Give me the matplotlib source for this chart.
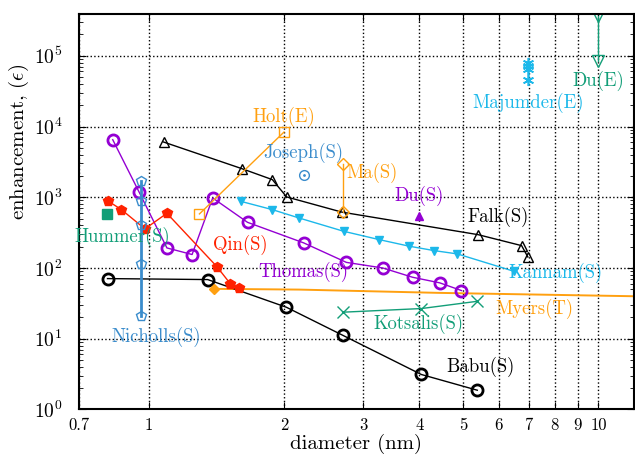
import numpy as np
import matplotlib
matplotlib.use("Agg")
import matplotlib.pyplot as plt
from matplotlib.ticker import LogLocator, NullLocator, FixedLocator, FixedFormatter

plt.rcParams.update({
    "font.family": "serif",
    "font.serif": ["cmr10"],
    "mathtext.fontset": "cm",
    "axes.formatter.use_mathtext": True,
    "font.size": 12,
})

# --- data (diameter in nm, enhancement)
thomas_d = [0.832, 0.952, 1.098, 1.249, 1.388, 1.659, 2.213, 2.752, 3.316, 3.864, 4.44, 4.96]
thomas_e = [6510, 1188, 192, 155, 977, 442, 226, 120, 100, 73.9, 61.6, 48]

falk_d = [1.079, 1.612, 1.884, 2.027, 2.69, 5.40, 6.75, 6.97]
falk_e = [6040, 2535, 1774, 1010, 616, 296, 207, 143]

kannam_d = [1.603, 1.884, 2.158, 2.715, 3.253, 3.80, 4.315, 4.86, 6.49]
kannam_e = [875, 668, 510, 330, 252, 203, 176, 158, 89.8]

babu_d = [0.810, 1.353, 2.023, 2.70, 4.04, 5.38]
babu_e = [70.8, 68.6, 27.9, 11.2, 3.12, 1.87]

qin_d = [0.810, 0.870, 0.981, 1.098, 1.419, 1.518, 1.589]
qin_e = [895, 668, 357, 593, 104, 60.2, 52.8]

nicholls_d = [0.960, 0.960, 0.960, 0.960, 0.960]
nicholls_e = [1716, 875, 410, 114, 20.8]

kotsalis_d = [2.70, 4.04, 5.38]
kotsalis_e = [23.7, 26.7, 33.8]

holt_d = [1.297, 2.0]
holt_e = [581, 8360]

ma_d = [2.70, 2.70]
ma_e = [2985, 616]

myers_d = [1.395, 2.16, 4.4, 13.0]
myers_e = [50.7, 49.5, 44.5, 39.5]

hummer_d = [0.809]
hummer_e = [586]

joseph_d = [2.213]
joseph_e = [2085]

du_s_d = [4.0]
du_s_e = [550]

majumder_d = [6.97, 6.97, 6.97, 6.97]
majumder_e = [80000, 72000, 65000, 45800]

du_e_d = [10.0, 10.0]
du_e_e = [367000, 85000]

xticks = [0.7, 1, 2, 3, 4, 5, 6, 7, 8, 9, 10]
xticklabels = ["0.7", "1", "2", "3", "4", "5", "6", "7", "8", "9", "10"]

# --- colours
purple = "#9400d3"
red = "#ff2200"
orange = "#ffa010"
cyan = "#1cb8ea"
green = "#129e78"
blue = "#3a8ccc"

fig = plt.figure(figsize=(6.35, 4.58), dpi=100)
ax = fig.add_axes([0.1244, 0.106, 0.874, 0.8635])
ax.set_xscale("log")
ax.set_yscale("log")

ax.plot(myers_d, myers_e, color=orange, lw=1.4, zorder=2)
ax.plot(myers_d[:1], myers_e[:1], "D", color=orange, ms=5, zorder=3)

ax.plot(thomas_d, thomas_e, "-o", color=purple, lw=1, ms=8, mfc="none", mew=2)
ax.plot(falk_d, falk_e, "-^", color="black", lw=1, ms=7, mfc="none", mew=1)
ax.plot(kannam_d, kannam_e, "-v", color=cyan, lw=1, ms=6)
ax.plot(babu_d, babu_e, "-o", color="black", lw=1, ms=8, mfc="none", mew=2)
ax.plot(qin_d, qin_e, "-p", color=red, lw=1, ms=7)
ax.plot(nicholls_d, nicholls_e, "-p", color=blue, lw=2, ms=7, mfc="none", mew=1)
ax.plot(kotsalis_d, kotsalis_e, "-x", color=green, lw=1, ms=8, mew=1)
ax.plot(holt_d, holt_e, "-s", color=orange, lw=1, ms=7, mfc="none", mew=1)
ax.plot(ma_d, ma_e, "-D", color=orange, lw=1, ms=6, mfc="none", mew=1)
ax.plot(hummer_d, hummer_e, "s", color=green, ms=7)
ax.plot(joseph_d, joseph_e, "o", color=blue, ms=7, mfc="none", mew=1)
ax.plot(joseph_d, joseph_e, ".", color=blue, ms=2)
ax.plot(du_s_d, du_s_e, "^", color=purple, ms=6)
ax.plot(majumder_d, majumder_e, "-", color=cyan, lw=1)
ax.plot(majumder_d, majumder_e, marker=(6, 2, 0), ls="none", color=cyan, ms=8, mew=1.2)
ax.plot(du_e_d, du_e_e, "-v", color=green, lw=1, ms=8, mfc="none", mew=1)

# --- series labels
lab = dict(fontsize=13.5, ha="center", va="center")
ax.text(2.0, 13800, "Holt(E)", color=orange, **lab)
ax.text(2.21, 4270, "Joseph(S)", color=blue, **lab)
ax.text(3.13, 2224, "Ma(S)", color=orange, **lab)
ax.text(4.0, 1054, "Du(S)", color=purple, **lab)
ax.text(5.98, 532, "Falk(S)", color="black", **lab)
ax.text(8.03, 86, "Kannam(S)", color=cyan, **lab)
ax.text(7.21, 26.7, "Myers(T)", color=orange, **lab)
ax.text(3.98, 16.4, "Kotsalis(S)", color=green, **lab)
ax.text(5.48, 4.05, "Babu(S)", color="black", **lab)
ax.text(2.21, 89, "Thomas(S)", color=purple, **lab)
ax.text(1.598, 214, "Qin(S)", color=red, **lab)
ax.text(0.872, 278, "Hummer(S)", color=green, **lab)
ax.text(1.041, 10.7, "Nicholls(S)", color=blue, **lab)
ax.text(6.97, 21700, "Majumder(E)", color=cyan, **lab)
ax.text(10.0, 44400, "Du(E)", color=green, **lab)

# --- axes
ax.set_xlim(0.7, 12)
ax.set_ylim(1, 3.9e5)
ax.xaxis.set_major_locator(FixedLocator(xticks))
ax.xaxis.set_major_formatter(FixedFormatter(xticklabels))
ax.xaxis.set_minor_locator(NullLocator())
ax.yaxis.set_major_locator(LogLocator(base=10, numticks=10))
ax.yaxis.set_minor_locator(LogLocator(base=10, subs=np.arange(2, 10), numticks=20))
ax.tick_params(which="both", direction="in", top=True, right=True)
ax.tick_params(which="major", length=5)
ax.tick_params(axis="x", which="major", labelsize=12, pad=6)
ax.tick_params(axis="y", which="major", labelsize=14, pad=12)
ax.tick_params(which="minor", length=3)
ax.grid(True, which="major", color="black", ls=":", lw=1)
for s in ax.spines.values():
    s.set_linewidth(1.5)

ax.set_xlabel("diameter (nm)", fontsize=15)
ax.set_ylabel(r"enhancement, $(\epsilon)$", fontsize=15)
ax.xaxis.set_label_coords(0.5, -0.062)
ax.yaxis.set_label_coords(-0.086, 0.677)

fig.savefig("out.png", dpi=100)
